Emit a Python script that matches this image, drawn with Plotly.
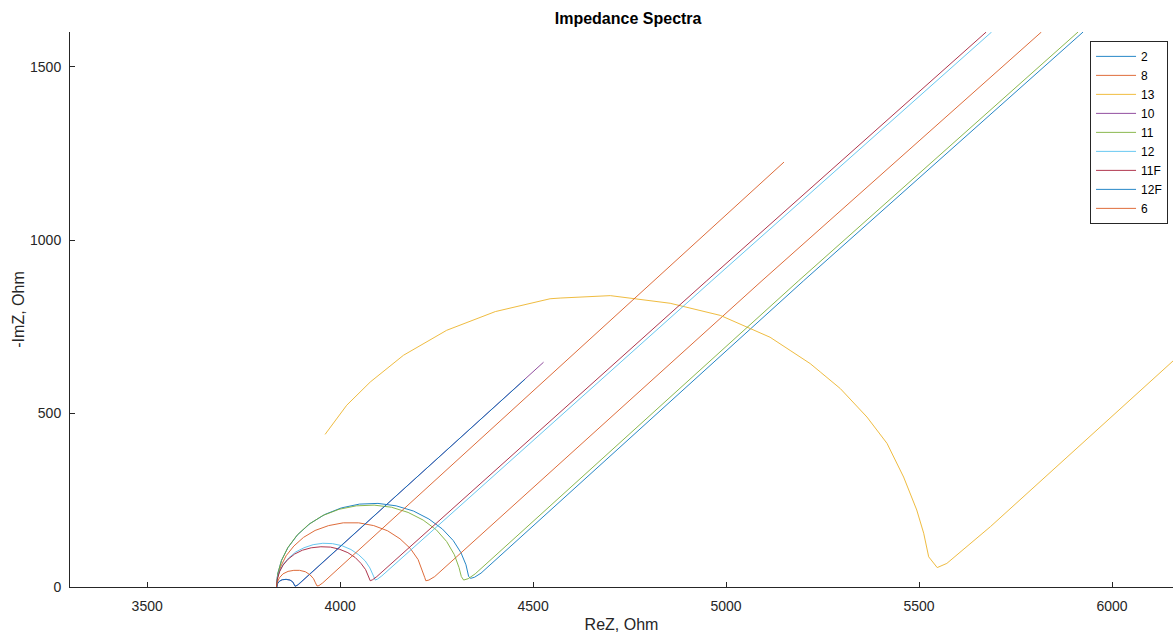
import plotly.graph_objects as go

# ---- data (ReZ, -ImZ in Ohm) ----
names = ["2", "8", "13", "10", "11", "12", "11F", "12F", "6"]

x_2 = [3835, 3838, 3848, 3865, 3890, 3922, 3960, 4003, 4050, 4098, 4145, 4190, 4230, 4265, 4293, 4313, 4326, 4333, 4338, 4348, 4365, 5201, 5925]
y_2 = [0, 37, 77, 114, 151, 183, 209, 228, 239, 241, 234, 219, 196, 167, 134, 99, 64, 30, 25, 28, 40, 883, 1600]

x_8 = [3835, 3838, 3846, 3860, 3880, 3905, 3935, 3970, 4008, 4048, 4087, 4123, 4155, 4182, 4202, 4214, 4219, 4222, 4230, 4245, 5093, 5817]
y_8 = [0, 27, 59, 90, 118, 143, 163, 177, 185, 185, 177, 162, 139, 111, 79, 46, 28, 18, 20, 30, 883, 1600]

x_13 = [3961, 4017, 4078, 4164, 4276, 4402, 4544, 4570, 4700, 4855, 4985, 5114, 5166, 5218, 5244, 5296, 5365, 5417, 5460, 5494, 5512, 5525, 5547, 5572, 5685, 6159, 6200]
y_13 = [440, 524, 591, 668, 740, 794, 831, 833, 840, 818, 783, 720, 682, 644, 620, 572, 490, 414, 317, 222, 155, 87, 56, 68, 174, 653, 694]

x_10 = [3836, 3838, 3843, 3850, 3860, 3870, 3877, 3881, 3884, 3892, 4527]
y_10 = [0, 10, 17, 21, 22, 20, 15, 8, 2, 7, 648]

x_11 = [3835, 3838, 3848, 3864, 3888, 3918, 3955, 3997, 4042, 4088, 4133, 4176, 4215, 4249, 4276, 4296, 4308, 4314, 4320, 4332, 4350, 5188, 5912]
y_11 = [0, 37, 76, 113, 149, 180, 206, 224, 234, 236, 230, 215, 193, 165, 131, 93, 56, 30, 20, 24, 38, 883, 1600]

x_12 = [3835, 3837, 3843, 3853, 3867, 3885, 3906, 3930, 3955, 3980, 4005, 4028, 4048, 4065, 4077, 4085, 4089, 4091, 4097, 4108, 4963, 5688]
y_12 = [0, 27, 46, 66, 84, 101, 113, 122, 126, 125, 119, 108, 93, 75, 55, 35, 22, 20, 23, 32, 883, 1600]

x_11F = [3835, 3837, 3843, 3852, 3865, 3882, 3902, 3925, 3950, 3975, 3998, 4020, 4039, 4054, 4066, 4073, 4076, 4078, 4084, 4095, 4950, 5674]
y_11F = [0, 22, 44, 63, 80, 95, 106, 113, 116, 115, 109, 99, 85, 68, 50, 33, 22, 18, 21, 30, 883, 1600]

x_12F = [3836, 3838, 3843, 3850, 3860, 3870, 3877, 3881, 3883, 3890, 4479]
y_12F = [0, 10, 17, 21, 22, 20, 15, 8, 2, 6, 599]

x_6 = [3835, 3837, 3843, 3852, 3865, 3880, 3895, 3910, 3922, 3931, 3936, 3940, 3945, 3955, 5150]
y_6 = [0, 14, 27, 38, 45, 48, 48, 44, 35, 24, 12, 3, 4, 12, 1225]

xs = [x_2, x_8, x_13, x_10, x_11, x_12, x_11F, x_12F, x_6]
ys = [y_2, y_8, y_13, y_10, y_11, y_12, y_11F, y_12F, y_6]

colors = ["#0072BD", "#D95319", "#EDB120", "#7E2F8E", "#77AC30",
          "#4DBEEE", "#A2142F", "#0072BD", "#D95319"]

xticks = [3500, 4000, 4500, 5000, 5500, 6000]
yticks = [0, 500, 1000, 1500]

fig = go.Figure()
for n, x, y, c in zip(names, xs, ys, colors):
    fig.add_trace(go.Scatter(x=x, y=y, mode="lines", name=n, opacity=0.85,
                             line=dict(color=c, width=1)))

axcol = "#262626"
font_family = "Liberation Sans, Arial, Helvetica, sans-serif"

fig.update_layout(
    width=1173, height=633,
    margin=dict(l=70, r=0, t=32, b=46),
    paper_bgcolor="white", plot_bgcolor="white",
    font=dict(family=font_family, size=14, color=axcol),
    title=dict(text="<b>Impedance Spectra</b>", xref="paper", x=0.506,
               xanchor="center", yref="container", y=0.971, yanchor="middle",
               font=dict(size=16, color="black")),
    showlegend=True,
    legend=dict(x=0.9955, xanchor="right", y=0.984, yanchor="top",
                bgcolor="white", bordercolor=axcol, borderwidth=1,
                font=dict(size=12, color="black"), tracegroupgap=0,
                itemwidth=40),
    xaxis=dict(range=[3300, 6158], tickvals=xticks, ticks="inside", ticklen=5,
               tickcolor=axcol, showline=True, linecolor=axcol, linewidth=1,
               showgrid=False, zeroline=False, mirror=False,
               ticklabelstandoff=6,
               title=dict(text="ReZ, Ohm", font=dict(size=16), standoff=7),
               tickfont=dict(size=14)),
    yaxis=dict(range=[0, 1600], tickvals=yticks, ticks="inside", ticklen=5,
               tickcolor=axcol, showline=True, linecolor=axcol, linewidth=1,
               showgrid=False, zeroline=False, mirror=False,
               ticklabelstandoff=5,
               title=dict(text="-ImZ, Ohm", font=dict(size=16), standoff=1),
               tickfont=dict(size=14)),
)

fig.write_html("out.html")
